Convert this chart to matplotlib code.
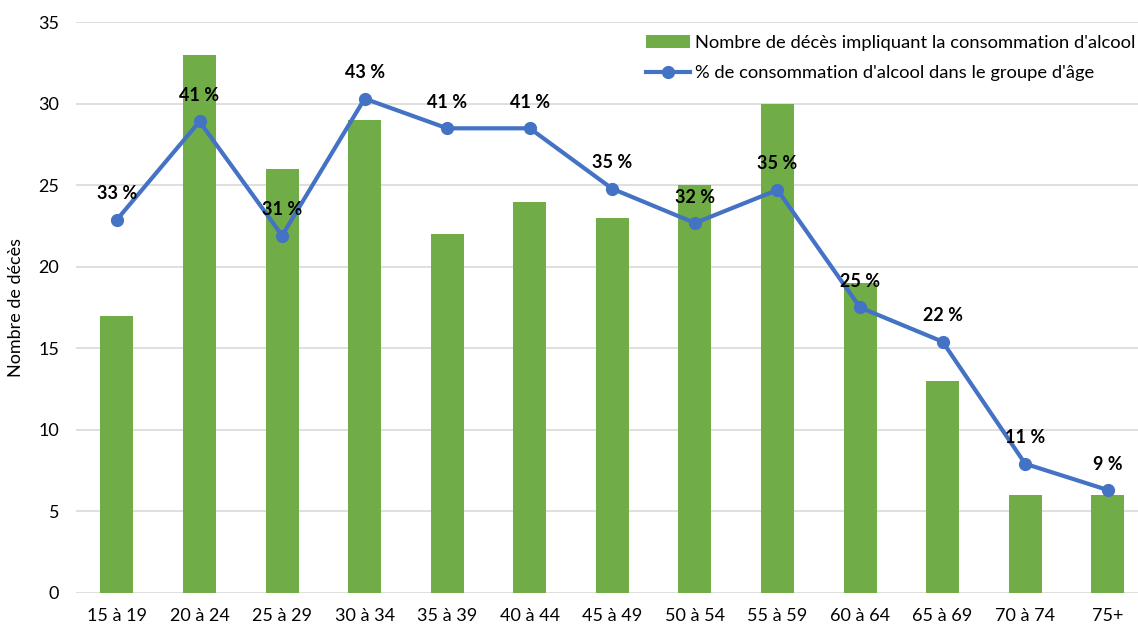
import matplotlib
matplotlib.use("Agg")
import matplotlib.pyplot as plt
from matplotlib.lines import Line2D
from matplotlib.patches import Patch

plt.rcParams['font.family'] = ['Lato', 'DejaVu Sans']

categories = ["15 à 19", "20 à 24", "25 à 29", "30 à 34", "35 à 39", "40 à 44",
              "45 à 49", "50 à 54", "55 à 59", "60 à 64", "65 à 69", "70 à 74", "75+"]
deaths = [17, 33, 26, 29, 22, 24, 23, 25, 30, 19, 13, 6, 6]
alcohol_pct = [32.7, 41.3, 31.3, 43.3, 40.7, 40.7, 35.4, 32.4, 35.3, 25.0, 22.0, 11.3, 9.0]

bar_label = "Nombre de décès impliquant la consommation d'alcool"
line_label = "% de consommation d'alcool dans le groupe d'âge"
y_label = "Nombre de décès"

GREEN = "#70AD47"
BLUE = "#4472C4"
GRID = "#D9D9D9"

W, H = 1138, 628
fig = plt.figure(figsize=(W / 100, H / 100), dpi=100)
left = 75.7 / W
right = 1149 / W
bottom = (H - 592.7) / H
top = (H - 22.2) / H
ax = fig.add_axes([left, bottom, right - left, top - bottom])

x = list(range(len(categories)))
ax.bar(x, deaths, width=0.4, color=GREEN, zorder=2)
ax.set_xlim(-0.5, len(categories) - 0.5)
ax.set_ylim(0, 35)
ax.set_yticks(range(0, 36, 5))
ax.set_xticks(x)
ax.set_xticklabels(categories)
ax.grid(axis='y', color=GRID, linewidth=1.2, zorder=0)
ax.set_axisbelow(True)
for s in ax.spines.values():
    s.set_visible(False)
ax.tick_params(axis='both', length=0, labelsize=13, colors='#000000')
ax.tick_params(axis='y', pad=12)
ax.tick_params(axis='x', pad=11)
ax.set_ylabel(y_label, fontsize=13)
ax.yaxis.set_label_coords(-0.048, 0.5)

ax2 = ax.twinx()
ax2.set_ylim(0, 50)
ax2.plot(x, alcohol_pct, color=BLUE, linewidth=3, marker='o', markersize=8.5, zorder=3)
ax2.set_yticks([])
for s in ax2.spines.values():
    s.set_visible(False)
for xi, v in zip(x, alcohol_pct):
    ax2.annotate(f"{round(v)} %", (xi, v), xytext=(0, 26), textcoords='offset pixels',
                 ha='center', va='center', fontsize=13, fontweight='bold', color='#000000')

handles = [Patch(facecolor=GREEN, edgecolor='none'),
           Line2D([0], [0], color=BLUE, linewidth=3, marker='o', markersize=8.5)]
fig.legend(handles, [bar_label, line_label], loc='upper left',
           bbox_to_anchor=(646 / W, 1 - 35 / H), frameon=False, fontsize=13.2,
           handlelength=2.4, handletextpad=0.25, labelspacing=0.78, borderpad=0, borderaxespad=0)

fig.savefig("out.png", dpi=100)
